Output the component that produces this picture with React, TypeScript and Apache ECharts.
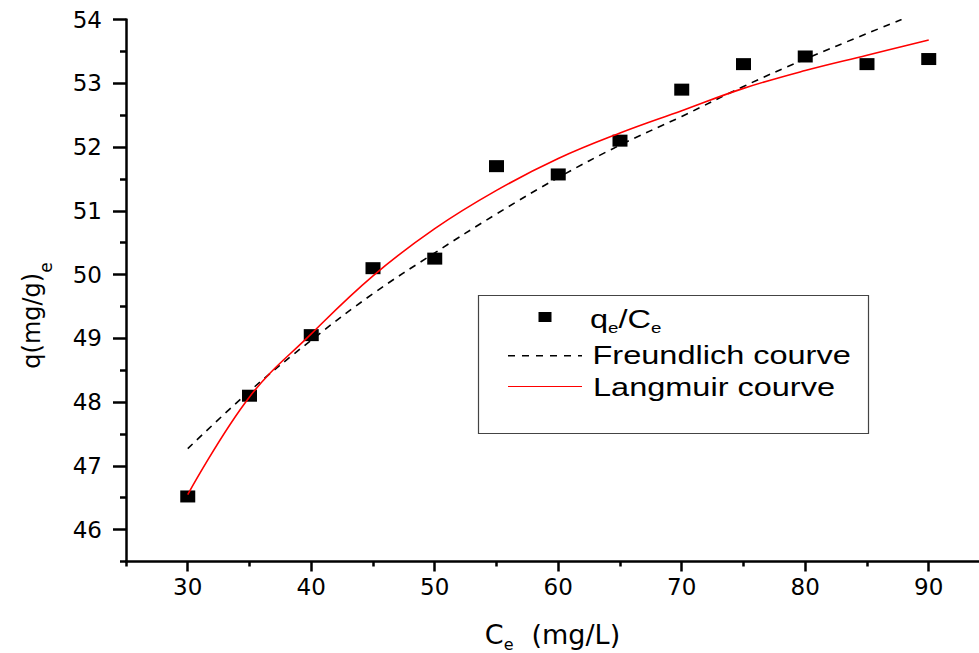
import React, { useEffect, useRef } from "react";
import * as echarts from "echarts";

const FONT = "DejaVu Sans";
const LEG_FONT = "Liberation Sans";

// Experimental points
const ceValues = [30, 35, 40, 45, 50, 55, 60, 65, 70, 75, 80, 85, 90];
const qeValues = [46.52, 48.1, 49.05, 50.1, 50.25, 51.7, 51.57, 52.1, 52.9, 53.3, 53.42, 53.3, 53.38];

// Freundlich fitted curve
const freundlichCe = [30, 35, 40, 45, 50, 55, 60, 65, 70, 75, 80, 85, 87.8];
const freundlichQ = [47.27, 48.17, 48.97, 49.7, 50.34, 50.95, 51.52, 52.03, 52.48, 52.95, 53.38, 53.78, 54.0];

// Langmuir fitted curve
const langmuirCe = [30, 35, 40, 45, 50, 55, 60, 65, 70, 75, 80, 85, 90];
const langmuirQ = [46.55, 48.08, 49.07, 49.98, 50.72, 51.32, 51.82, 52.22, 52.57, 52.92, 53.2, 53.44, 53.68];

// Ticks
const xMajorTicks = [30, 40, 50, 60, 70, 80, 90];
const xMinorTicks = [25, 35, 45, 55, 65, 75, 85];
const yMajorTicks = [46, 47, 48, 49, 50, 51, 52, 53, 54];
const yMinorTicks = [45.5, 46.5, 47.5, 48.5, 49.5, 50.5, 51.5, 52.5, 53.5];

const X_MIN = 25;
const X_MAX = 94.07;
const Y_MIN = 45.5;
const Y_MAX = 54;

export default function App() {
  const ref = useRef<HTMLDivElement>(null);

  useEffect(() => {
    if (!ref.current) return;
    const chart = echarts.init(ref.current, undefined, { renderer: "svg" });
    const axisLineStyle = { color: "#000", width: 2.5 };
    const tickStyle = { color: "#000", width: 2.5 };
    const option: any = {
      animation: false,
      backgroundColor: "#fff",
      grid: {
        left: 126,
        right: 0,
        top: 19.5,
        bottom: 91.5,
        containLabel: false,
        outerBoundsMode: "none",
      },
      xAxis: [
        {
          type: "value",
          min: X_MIN,
          max: X_MAX,
          position: "bottom",
          axisLine: { show: true, onZero: false, lineStyle: axisLineStyle },
          axisTick: { show: true, length: 10, lineStyle: tickStyle, customValues: xMajorTicks },
          axisLabel: {
            show: true,
            customValues: xMajorTicks,
            color: "#000",
            fontSize: 23,
            fontFamily: FONT,
            margin: 14,
          },
          splitLine: { show: false },
          name: "C{s|e}{g| }(mg/L)",
          nameLocation: "middle",
          nameGap: 55,
          nameTextStyle: {
            color: "#000",
            fontSize: 27,
            fontFamily: FONT,
            lineHeight: 36,
            rich: {
              s: { fontSize: 16, lineHeight: 12, verticalAlign: "bottom", fontFamily: FONT, color: "#000" },
              g: { width: 18, fontFamily: FONT },
            },
          },
        },
        {
          type: "value",
          min: X_MIN,
          max: X_MAX,
          position: "bottom",
          axisLine: { show: false, onZero: false },
          axisTick: { show: true, length: 5, lineStyle: tickStyle, customValues: xMinorTicks },
          axisLabel: { show: false },
          splitLine: { show: false },
        },
      ],
      yAxis: [
        {
          type: "value",
          min: Y_MIN,
          max: Y_MAX,
          position: "left",
          axisLine: { show: true, onZero: false, lineStyle: axisLineStyle },
          axisTick: { show: true, length: 13, lineStyle: tickStyle, customValues: yMajorTicks },
          axisLabel: {
            show: true,
            customValues: yMajorTicks,
            color: "#000",
            fontSize: 23,
            fontFamily: FONT,
            margin: 24,
          },
          splitLine: { show: false },
          name: "q(mg/g){s|e}",
          nameLocation: "middle",
          nameRotate: 90,
          nameGap: 72,
          nameTextStyle: {
            color: "#000",
            fontSize: 24,
            fontFamily: FONT,
            lineHeight: 44,
            padding: [0, 50, 0, 0],
            rich: {
              s: { fontSize: 17, lineHeight: 11, verticalAlign: "bottom", fontFamily: FONT, color: "#000" },
            },
          },
        },
        {
          type: "value",
          min: Y_MIN,
          max: Y_MAX,
          position: "left",
          axisLine: { show: false, onZero: false },
          axisTick: { show: true, length: 6, lineStyle: tickStyle, customValues: yMinorTicks },
          axisLabel: { show: false },
          splitLine: { show: false },
        },
      ],
      series: [
        {
          name: "qe/Ce",
          type: "scatter",
          xAxisIndex: 0,
          yAxisIndex: 0,
          data: ceValues.map((c, i) => [c, qeValues[i]]),
          symbol: "rect",
          symbolSize: [15, 12],
          itemStyle: { color: "#000", opacity: 1 },
          z: 2,
        },
        {
          name: "Freundlich courve",
          type: "line",
          xAxisIndex: 0,
          yAxisIndex: 0,
          data: freundlichCe.map((c, i) => [c, freundlichQ[i]]),
          showSymbol: false,
          symbol: "none",
          smooth: 0.4,
          lineStyle: { color: "#000", width: 1.6, type: [7, 6] },
          z: 3,
        },
        {
          name: "Langmuir courve",
          type: "line",
          xAxisIndex: 0,
          yAxisIndex: 0,
          data: langmuirCe.map((c, i) => [c, langmuirQ[i]]),
          showSymbol: false,
          symbol: "none",
          smooth: 0.4,
          lineStyle: { color: "#ff0000", width: 1.6 },
          z: 4,
        },
      ],
      graphic: [
        {
          type: "rect",
          shape: { x: 478.5, y: 295.5, width: 390, height: 138 },
          style: { fill: "#fff", stroke: "#444", lineWidth: 1.2 },
          z: 10,
        },
        {
          type: "rect",
          shape: { x: 538.5, y: 312, width: 13, height: 10 },
          style: { fill: "#000" },
          z: 11,
        },
        {
          type: "line",
          shape: { x1: 508, y1: 355.7, x2: 582, y2: 355.7 },
          style: { stroke: "#000", lineWidth: 1.5, lineDash: [7, 7] },
          z: 11,
        },
        {
          type: "line",
          shape: { x1: 508, y1: 386.5, x2: 582, y2: 386.5 },
          style: { stroke: "#ff0000", lineWidth: 1.2 },
          z: 11,
        },
        {
          type: "text",
          x: 590,
          y: 319,
          scaleX: 1.25,
          z: 11,
          style: {
            text: "q{s|e}/C{s|e}",
            fontFamily: LEG_FONT,
            fontSize: 26,
            fill: "#000",
            align: "left",
            verticalAlign: "middle",
            lineHeight: 34,
            rich: {
              s: { fontSize: 15, lineHeight: 13, verticalAlign: "bottom", fontFamily: LEG_FONT, fill: "#000" },
            },
          },
        },
        {
          type: "text",
          x: 592.5,
          y: 355,
          scaleX: 1.25,
          z: 11,
          style: {
            text: "Freundlich courve",
            fontFamily: LEG_FONT,
            fontSize: 26,
            fill: "#000",
            align: "left",
            verticalAlign: "middle",
          },
        },
        {
          type: "text",
          x: 593,
          y: 386.3,
          scaleX: 1.25,
          z: 11,
          style: {
            text: "Langmuir courve",
            fontFamily: LEG_FONT,
            fontSize: 26,
            fill: "#000",
            align: "left",
            verticalAlign: "middle",
          },
        },
      ],
    };
    chart.setOption(option);
    return () => {
      chart.dispose();
    };
  }, []);

  return (
    <div
      ref={ref}
      style={{ position: "fixed", left: 0, top: 0, width: 979, height: 653, background: "#fff" }}
    />
  );
}
